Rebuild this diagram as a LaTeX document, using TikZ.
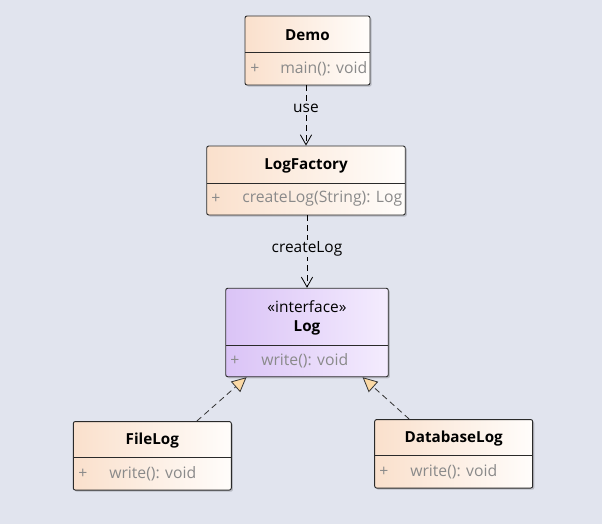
\documentclass[tikz,border=0pt]{standalone}
\usepackage{fontspec}
\setmainfont{Open Sans}
\usetikzlibrary{arrows.meta,calc,shadows}
\definecolor{bgc}{HTML}{E1E4EE}
\definecolor{clsl}{HTML}{FAE0CC}
\definecolor{clsr}{HTML}{FFFDFB}
\definecolor{ifl}{HTML}{DAC3F6}
\definecolor{ifr}{HTML}{F4ECFE}
\definecolor{memc}{HTML}{8A8A8A}
\definecolor{edgec}{HTML}{2A2A2A}
\definecolor{trif}{HTML}{FBD9A5}
\tikzset{
  x=0.75pt, y=-0.75pt,
  clsbox/.style={draw=edgec, line width=0.7pt, rounded corners=1.5pt, inner sep=0pt,
    left color=clsl, right color=clsr,
    drop shadow={shadow xshift=1.2pt, shadow yshift=-1.2pt, fill=black, opacity=0.18}},
  ifbox/.style={clsbox, left color=ifl, right color=ifr},
  divider/.style={draw=edgec, line width=0.7pt},
  ttl/.style={font=\bfseries\fontsize{11.4}{13}\selectfont, text=black, inner sep=0pt},
  stereo/.style={font=\fontsize{11.6}{13}\selectfont, text=black, inner sep=0pt},
  mem/.style={font=\fontsize{11.8}{13}\selectfont, text=memc, inner sep=0pt, anchor=west},
  lbl/.style={font=\fontsize{11.6}{13}\selectfont, text=black, inner sep=1pt, fill=bgc},
  dep/.style={draw=black, line width=0.6pt, dash pattern=on 4.5pt off 3pt,
    -{Straight Barb[length=7.5pt,width=8.5pt,line width=0.6pt]}},
  real/.style={draw=black!80, line width=0.6pt, dash pattern=on 4.5pt off 3pt,
    -{Triangle[open, fill=trif, length=11pt, width=10.5pt, line width=0.6pt]}},
}
\begin{document}
\begin{tikzpicture}
\fill[bgc] (0,0) rectangle (602,524);
\useasboundingbox (0,0) rectangle (602,524);

% Demo
\node[clsbox, minimum width=125*0.75pt, minimum height=69*0.75pt] (demo) at (307.5,50.5) {};
\draw[divider] (245,52.5) -- (370,52.5);
\node[ttl] (demot) at (307.5,35.5) {Demo};
\node[mem] (demop) at (250,68.5) {+};
\node[mem] (demom) at (280,68.5) {main(): void};

% LogFactory
\node[clsbox, minimum width=198.5*0.75pt, minimum height=69*0.75pt] (factory) at (306,180.5) {};
\draw[divider] (206.75,183) -- (405.25,183);
\node[ttl] (factoryt) at (306,165.5) {LogFactory};
\node[mem] (factoryp) at (211,199) {+};
\node[mem] (factorym) at (242,199) {createLog(String): Log};

% Log
\node[ifbox, minimum width=162.5*0.75pt, minimum height=88.5*0.75pt] (log) at (307,332.5) {};
\draw[divider] (225.75,345) -- (388.25,345);
\node[stereo] (logs) at (307,306.5) {«interface»};
\node[ttl] (logt) at (307,327.5) {Log};
\node[mem] (logp) at (230,360.5) {+};
\node[mem] (logm) at (261,360.5) {write(): void};

% FileLog
\node[clsbox, minimum width=158*0.75pt, minimum height=68.5*0.75pt] (filelog) at (152.3,455.8) {};
\draw[divider] (73.3,457.5) -- (231.3,457.5);
\node[ttl] (filelogt) at (152.3,440.5) {FileLog};
\node[mem] (filelogp) at (78,473.5) {+};
\node[mem] (filelogm) at (109,473.5) {write(): void};

% DatabaseLog
\node[clsbox, minimum width=158*0.75pt, minimum height=68.5*0.75pt] (dblog) at (453.7,453.8) {};
\draw[divider] (374.7,455.5) -- (532.7,455.5);
\node[ttl] (dblogt) at (453.7,438.5) {DatabaseLog};
\node[mem] (dblogp) at (379,471.5) {+};
\node[mem] (dblogm) at (410,471.5) {write(): void};

% connectors
\draw[dep] (demo.south -| factory.north) -- node[lbl, pos=0.38] (use) {use} (factory.north);
\draw[dep] (factory.south -| log.north) -- node[lbl, pos=0.46] (cl) {createLog} (log.north);
\draw[real] ($(filelog.north west)!0.78!(filelog.north east)$) -- ($(log.south west)!0.13!(log.south east)$);
\draw[real] ($(dblog.north west)!0.22!(dblog.north east)$) -- ($(log.south west)!0.84!(log.south east)$);
\end{tikzpicture}
\end{document}
